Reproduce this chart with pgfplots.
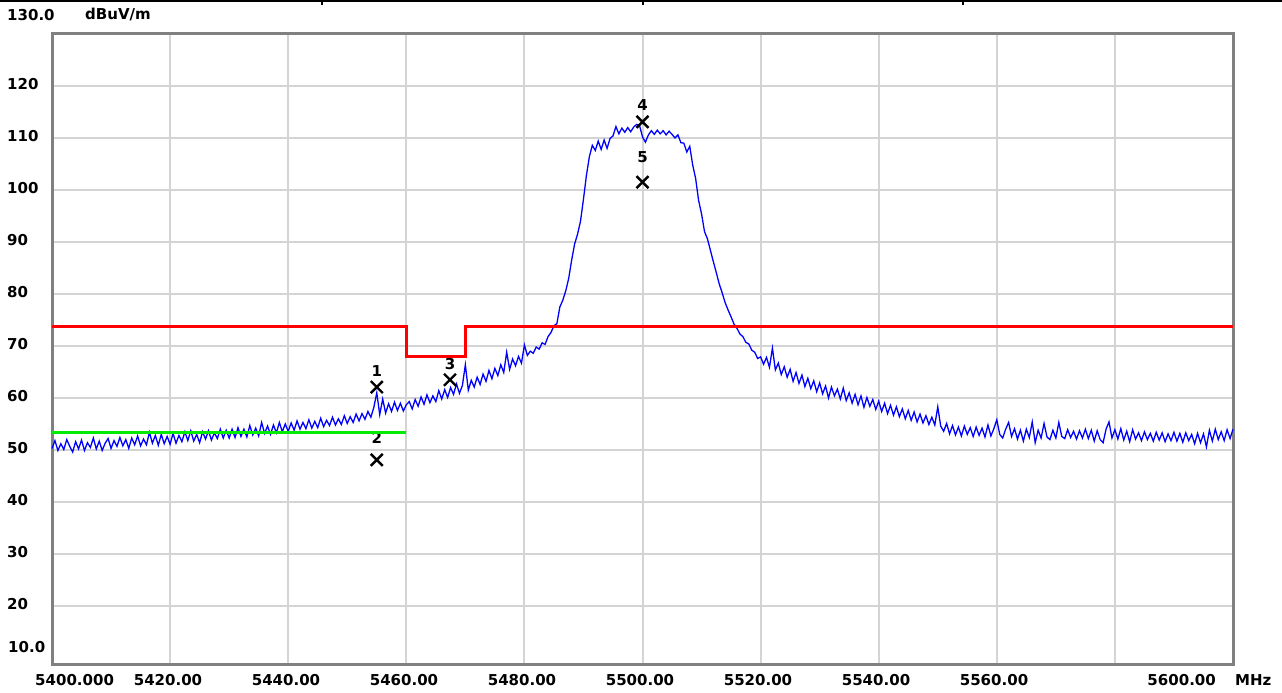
\documentclass[border=0pt]{standalone}
\usepackage{fontspec}
\setmainfont{DejaVu Sans}
\usepackage{pgfplots}
\pgfplotsset{compat=1.18}
\definecolor{framegray}{RGB}{128,128,128}
\definecolor{gridgray}{RGB}{212,212,212}
\definecolor{trace}{RGB}{0,0,255}
\definecolor{limitred}{RGB}{255,0,0}
\definecolor{avggreen}{RGB}{0,235,0}
\newcommand{\lbl}{\bfseries\fontsize{15}{18}\selectfont}

\begin{document}
\begin{tikzpicture}
\path[use as bounding box] (0,0) rectangle (1282pt,693pt);
% window edge at the top
\draw[line width=2pt] (0,692pt) -- (1282pt,692pt);
\foreach \t in {322,643,963} \draw[line width=1.5pt] (\t pt,693pt) -- (\t pt,688pt);

\begin{axis}[
    at={(52pt,28pt)}, anchor=south west,
    scale only axis, width=1181pt, height=631pt,
    xmin=5400, xmax=5600, ymin=8.65, ymax=130,
    xtick={5420,5440,...,5580}, ytick={20,30,...,120},
    xticklabels={}, yticklabels={},
    major tick length=0pt,
    grid=major,
    major grid style={color=gridgray, line width=2pt},
    axis line style={color=framegray, line width=3pt},
    clip=false
]
% measured trace
\addplot[color=trace, line width=1.3pt] table {
x y
5400.0 50.3
5400.5 51.8
5401.0 49.9
5401.5 51.2
5402.0 50.1
5402.5 52.0
5403.0 50.7
5403.5 49.6
5404.0 51.6
5404.5 50.2
5405.0 51.9
5405.5 49.9
5406.0 51.4
5406.5 50.5
5407.0 52.3
5407.5 50.2
5408.0 51.7
5408.5 49.9
5409.0 51.3
5409.5 52.2
5410.0 50.3
5410.5 51.8
5411.0 50.7
5411.5 52.4
5412.0 50.8
5412.5 52.0
5413.0 50.3
5413.5 52.3
5414.0 51.0
5414.5 52.7
5415.0 50.8
5415.5 52.1
5416.0 51.0
5416.5 53.4
5417.0 51.3
5417.5 52.8
5418.0 50.9
5418.5 53.0
5419.0 51.2
5419.5 52.6
5420.0 51.1
5420.5 53.2
5421.0 51.3
5421.5 52.8
5422.0 51.6
5422.5 53.5
5423.0 51.8
5423.5 53.7
5424.0 51.7
5424.5 53.0
5425.0 51.4
5425.5 53.5
5426.0 52.1
5426.5 53.7
5427.0 51.9
5427.5 53.3
5428.0 52.2
5428.5 54.0
5429.0 52.3
5429.5 53.8
5430.0 52.3
5430.5 54.0
5431.0 52.4
5431.5 54.3
5432.0 52.6
5432.5 54.0
5433.0 52.5
5433.5 54.7
5434.0 52.9
5434.5 54.2
5435.0 52.7
5435.5 55.3
5436.0 53.2
5436.5 54.6
5437.0 53.0
5437.5 54.8
5438.0 53.3
5438.5 55.3
5439.0 53.5
5439.5 55.0
5440.0 53.6
5440.5 55.2
5441.0 53.8
5441.5 55.6
5442.0 54.0
5442.5 55.3
5443.0 54.1
5443.5 55.8
5444.0 54.2
5444.5 55.5
5445.0 54.3
5445.5 56.1
5446.0 54.5
5446.5 55.7
5447.0 54.7
5447.5 56.3
5448.0 54.8
5448.5 56.0
5449.0 54.9
5449.5 56.6
5450.0 55.1
5450.5 56.4
5451.0 55.3
5451.5 56.9
5452.0 55.6
5452.5 57.0
5453.0 55.9
5453.5 57.4
5454.0 56.3
5454.5 58.2
5455.0 61.0
5455.5 56.8
5456.0 59.8
5456.5 57.1
5457.0 58.9
5457.5 57.4
5458.0 59.2
5458.5 57.6
5459.0 59.0
5459.5 57.5
5460.0 58.7
5460.5 59.3
5461.0 57.9
5461.5 59.7
5462.0 58.4
5462.5 60.2
5463.0 58.8
5463.5 60.6
5464.0 59.1
5464.5 60.4
5465.0 59.3
5465.5 61.4
5466.0 59.8
5466.5 61.6
5467.0 60.1
5467.5 62.0
5468.0 60.7
5468.5 62.7
5469.0 60.9
5469.5 62.4
5470.0 66.4
5470.5 61.5
5471.0 63.4
5471.5 62.1
5472.0 64.0
5472.5 62.6
5473.0 64.6
5473.5 63.2
5474.0 65.3
5474.5 63.7
5475.0 65.7
5475.5 64.3
5476.0 66.4
5476.5 64.9
5477.0 68.8
5477.5 65.5
5478.0 67.5
5478.5 66.2
5479.0 68.0
5479.5 66.7
5480.0 70.2
5480.5 68.2
5481.0 69.0
5481.5 68.6
5482.0 69.8
5482.5 69.4
5483.0 70.6
5483.5 70.3
5484.0 71.8
5484.5 72.6
5485.0 73.9
5485.5 74.3
5486.0 77.5
5486.5 78.8
5487.0 80.6
5487.5 83.0
5488.0 86.5
5488.5 89.6
5489.0 91.5
5489.5 94.0
5490.0 98.2
5490.5 102.8
5491.0 106.4
5491.5 108.6
5492.0 107.6
5492.5 109.4
5493.0 107.8
5493.5 109.6
5494.0 108.0
5494.5 109.9
5495.0 110.4
5495.5 112.2
5496.0 110.8
5496.5 111.9
5497.0 111.1
5497.5 112.0
5498.0 111.2
5498.5 112.1
5499.0 112.6
5499.5 112.4
5500.0 110.2
5500.5 109.2
5501.0 110.6
5501.5 111.4
5502.0 110.7
5502.5 111.5
5503.0 110.8
5503.5 111.4
5504.0 110.6
5504.5 111.3
5505.0 110.7
5505.5 110.0
5506.0 110.6
5506.5 109.1
5507.0 109.0
5507.5 107.3
5508.0 108.4
5508.5 104.8
5509.0 102.2
5509.5 98.0
5510.0 95.4
5510.5 92.0
5511.0 90.6
5511.5 88.4
5512.0 86.2
5512.5 84.1
5513.0 81.9
5513.5 80.2
5514.0 78.3
5514.5 76.9
5515.0 75.6
5515.5 74.2
5516.0 73.4
5516.5 72.3
5517.0 71.8
5517.5 70.7
5518.0 70.4
5518.5 69.2
5519.0 68.8
5519.5 67.6
5520.0 67.9
5520.5 66.5
5521.0 67.8
5521.5 65.9
5522.0 69.6
5522.5 65.4
5523.0 66.7
5523.5 64.5
5524.0 66.0
5524.5 64.0
5525.0 65.5
5525.5 63.2
5526.0 64.9
5526.5 62.8
5527.0 64.4
5527.5 62.2
5528.0 63.8
5528.5 61.8
5529.0 63.3
5529.5 61.2
5530.0 62.9
5530.5 60.8
5531.0 62.3
5531.5 60.0
5532.0 62.1
5532.5 60.4
5533.0 61.7
5533.5 59.8
5534.0 61.9
5534.5 59.5
5535.0 61.0
5535.5 59.0
5536.0 60.7
5536.5 58.7
5537.0 60.4
5537.5 58.2
5538.0 60.1
5538.5 58.4
5539.0 59.7
5539.5 57.8
5540.0 59.4
5540.5 57.4
5541.0 59.0
5541.5 57.0
5542.0 58.6
5542.5 56.7
5543.0 58.3
5543.5 56.4
5544.0 57.9
5544.5 56.0
5545.0 57.6
5545.5 55.7
5546.0 57.3
5546.5 55.4
5547.0 56.9
5547.5 55.2
5548.0 56.6
5548.5 54.9
5549.0 56.3
5549.5 54.8
5550.0 58.3
5550.5 54.6
5551.0 53.6
5551.5 55.1
5552.0 53.1
5552.5 54.7
5553.0 52.9
5553.5 54.4
5554.0 52.7
5554.5 54.6
5555.0 53.0
5555.5 54.3
5556.0 52.6
5556.5 54.4
5557.0 52.8
5557.5 54.2
5558.0 52.5
5558.5 54.8
5559.0 52.7
5559.5 54.1
5560.0 55.8
5560.5 53.0
5561.0 52.3
5561.5 54.0
5562.0 55.3
5562.5 52.6
5563.0 54.1
5563.5 52.1
5564.0 53.8
5564.5 51.7
5565.0 54.0
5565.5 52.4
5566.0 55.4
5566.5 51.4
5567.0 53.8
5567.5 52.3
5568.0 55.1
5568.5 52.5
5569.0 52.0
5569.5 53.8
5570.0 52.3
5570.5 55.3
5571.0 52.6
5571.5 52.2
5572.0 53.9
5572.5 52.4
5573.0 53.6
5573.5 52.1
5574.0 53.7
5574.5 52.3
5575.0 54.0
5575.5 52.2
5576.0 53.8
5576.5 51.7
5577.0 53.7
5577.5 52.0
5578.0 51.4
5578.5 54.0
5579.0 55.4
5579.5 52.3
5580.0 53.9
5580.5 52.1
5581.0 54.1
5581.5 51.9
5582.0 53.6
5582.5 51.6
5583.0 53.9
5583.5 52.1
5584.0 53.3
5584.5 51.8
5585.0 53.5
5585.5 52.0
5586.0 53.2
5586.5 51.7
5587.0 53.4
5587.5 51.9
5588.0 53.3
5588.5 51.6
5589.0 53.1
5589.5 51.8
5590.0 53.4
5590.5 51.7
5591.0 53.2
5591.5 51.5
5592.0 53.3
5592.5 51.8
5593.0 53.0
5593.5 51.2
5594.0 53.2
5594.5 51.4
5595.0 53.1
5595.5 50.6
5596.0 53.8
5596.5 51.7
5597.0 54.0
5597.5 52.0
5598.0 53.5
5598.5 51.8
5599.0 53.9
5599.5 52.2
5600.0 54.0
};
% limit line
\addplot[color=limitred, line width=3pt] coordinates {
(5400,73.7) (5460,73.7) (5460,67.9) (5470,67.9) (5470,73.7) (5600,73.7)};
% markers and their numbers
\node[font=\lbl, inner sep=0pt] at (axis cs:5455,65.2) {1};
\node[font=\lbl, inner sep=0pt] at (axis cs:5455,52.4) {2};
\node[font=\lbl, inner sep=0pt] at (axis cs:5467.4,66.6) {3};
\node[font=\lbl, inner sep=0pt] at (axis cs:5500,116.3) {4};
\node[font=\lbl, inner sep=0pt] at (axis cs:5500,106.3) {5};
\addplot[color=avggreen, line width=3pt] coordinates {(5400,53.4) (5460,53.4)};
\addplot[only marks, mark=x, mark size=8.5pt, mark options={line width=2.4pt, color=black}] coordinates {
(5455,62.1) (5455,48.1) (5467.4,63.5) (5500,113.1) (5500,101.5)};
\end{axis}

% y scale labels
\begin{scope}[every node/.style={font=\lbl, inner sep=0pt, anchor=west}]
\node at (7pt,678pt) {130.0};
\node at (85pt,678pt) {dBuV/m};
\foreach \v/\py in {120/84,110/136,100/188,90/240,80/292,70/344,60/396,50/448,40/500,30/552,20/604}
  \node at (7pt,{(693-\py)*1pt}) {\v};
\node at (8pt,46pt) {10.0};
% x scale labels
\node at (35pt,13pt) {5400.000};
\node at (1235pt,13pt) {MHz};
\node[anchor=east] at (1216pt,13pt) {5600.00};
\end{scope}
\foreach \f/\px in {5420/171,5440/289,5460/407,5480/525,5500/643,5520/761,5540/879,5560/997}
  \node[font=\lbl, inner sep=0pt] at ({(\px-3)*1pt},13pt) {\f.00};
\end{tikzpicture}
\end{document}
